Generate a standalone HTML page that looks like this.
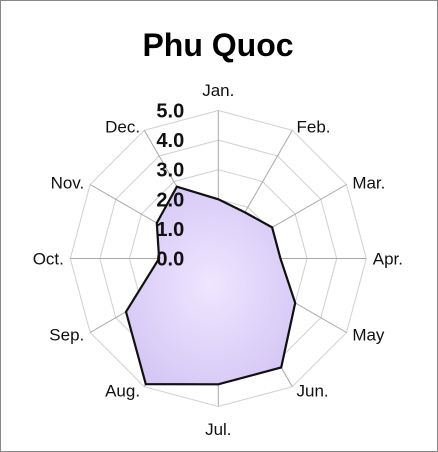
<!DOCTYPE html>
<html><head><meta charset="utf-8"><style>
html,body{margin:0;padding:0;background:#fff}
svg{display:block;font-family:"Liberation Sans",Calibri,sans-serif}
</style></head><body>
<svg id="chart" width="438" height="452" viewBox="0 0 438 452" xmlns="http://www.w3.org/2000/svg">
<defs><radialGradient id="fillg" cx="0.5" cy="0.5" r="0.6"><stop offset="0" stop-color="#efe6ff"/><stop offset="1" stop-color="#d4c6f5"/></radialGradient></defs>
<rect x="0.5" y="0.5" width="437" height="451" fill="#fff" stroke="#888"/>
<text x="218" y="56" text-anchor="middle" font-size="32" font-weight="bold" fill="#000">Phu Quoc</text>
<g id="grid"></g><g id="series"></g><g id="labels"></g>
</svg>
<script>
const categories=["Jan.","Feb.","Mar.","Apr.","May","Jun.","Jul.","Aug.","Sep.","Oct.","Nov.","Dec."];
const values=[2.0,1.8,2.1,2.1,3.0,4.25,4.25,4.9,3.6,2.0,2.4,2.8];
const ticks=[0,1,2,3,4,5];
const tickLabels=["0.0","1.0","2.0","3.0","4.0","5.0"];
const NS="http://www.w3.org/2000/svg";
const cx=218.3,cy=258.5,R=148,maxV=5;
function rScale(v){return v/maxV*R;}
function pt(i,v){const a=i/categories.length*2*Math.PI;return [cx+rScale(v)*Math.sin(a),cy-rScale(v)*Math.cos(a)];}
function mk(t,attrs,parent){const e=document.createElementNS(NS,t);for(const k in attrs)e.setAttribute(k,attrs[k]);parent.appendChild(e);return e;}
const grid=document.getElementById('grid');
ticks.forEach((t,ti)=>{if(t===0)return;
 const p=mk('polygon',{points:categories.map((c,i)=>pt(i,t).join(',')).join(' '),fill:'none',stroke:'#d0d0d0','stroke-width':1},grid);
 
 });
categories.forEach((c,i)=>{const [x,y]=pt(i,maxV);
 const l=mk('line',{x1:cx,y1:cy,x2:x,y2:y,stroke:'#a8a8a8','stroke-width':1},grid);
 
 });
const s=document.getElementById('series');
const poly=mk('polygon',{points:values.map((v,i)=>pt(i,v).join(',')).join(' '),fill:'url(#fillg)',stroke:'#111','stroke-width':2.2,'stroke-linejoin':'miter'},s);


const lab=document.getElementById('labels');
ticks.forEach((t,ti)=>{const tx=mk('text',{x:cx-48,y:cy-rScale(t)+7,'text-anchor':'middle','font-size':20,'font-weight':'bold',fill:'#111'},lab);
 tx.textContent=tickLabels[ti];
 
 });
categories.forEach((c,i)=>{const [x,y]=pt(i,maxV*1.03);
 const a=i/categories.length*2*Math.PI;const sx=Math.sin(a),cy2=Math.cos(a);
 let anchor='middle';if(sx>0.1)anchor='start';else if(sx<-0.1)anchor='end';
 let dy=6;if(cy2>0.9)dy=-10;else if(cy2<-0.9)dy=24;
 const tx=mk('text',{x:x+(anchor==='start'?2:anchor==='end'?-2:0),y:y+dy,'text-anchor':anchor,'font-size':17,fill:'#111'},lab);
 tx.textContent=c;
 
 });
</script>
</body></html>
